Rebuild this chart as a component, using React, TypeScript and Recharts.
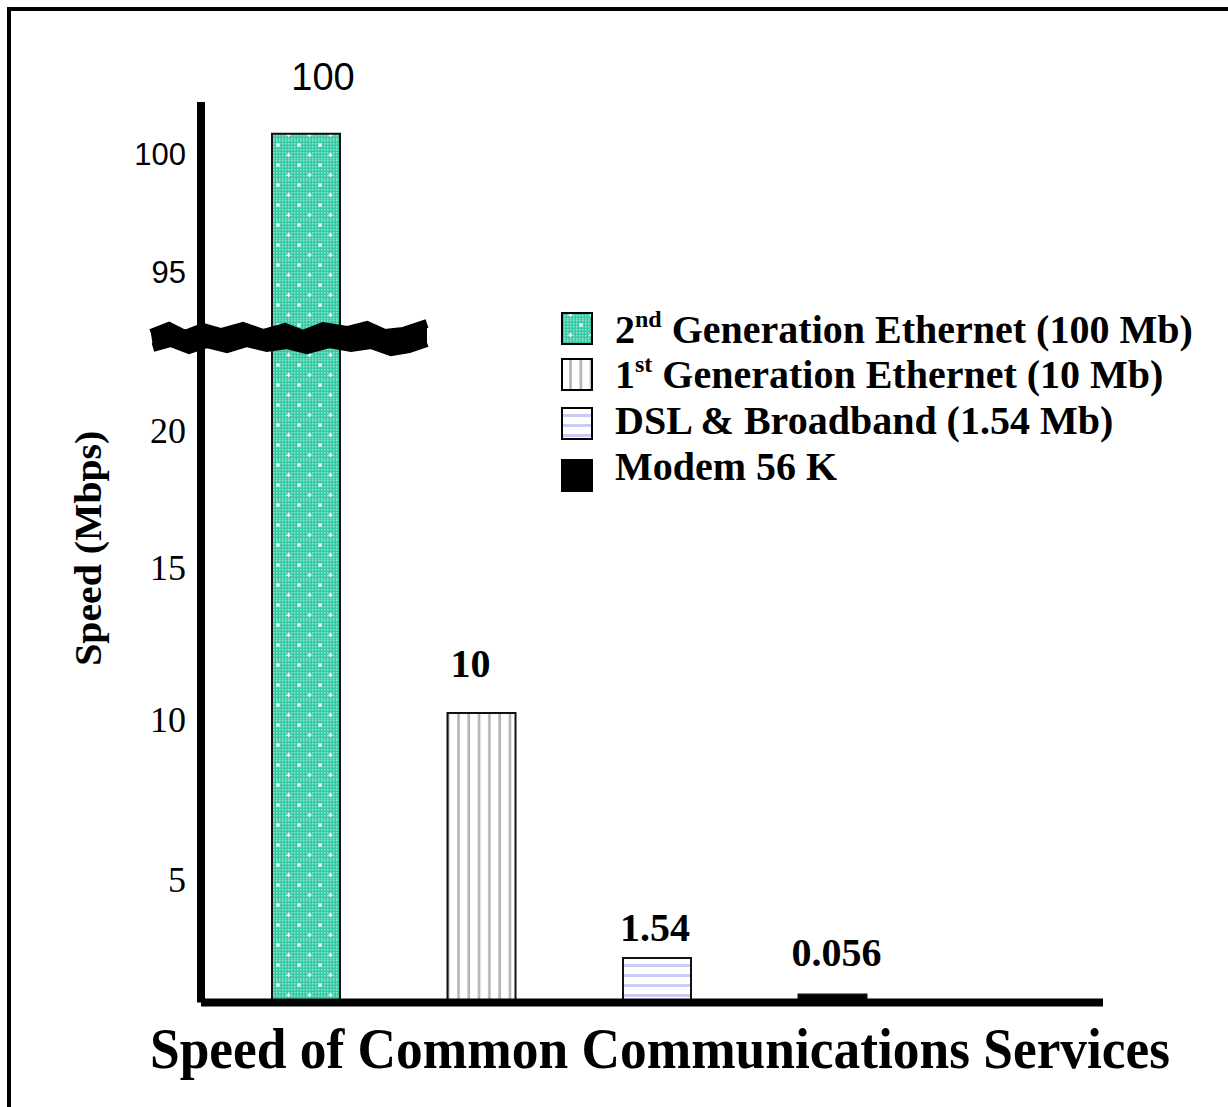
import React from 'react';
import { BarChart, Bar, XAxis, YAxis, Cell, LabelList, Legend, ReferenceLine } from 'recharts';

const categories = [
  '2nd Generation Ethernet (100 Mb)',
  '1st Generation Ethernet (10 Mb)',
  'DSL & Broadband (1.54 Mb)',
  'Modem 56 K',
];
const speeds = [100, 10, 1.54, 0.056];
const speedLabels = ['100', '10', '1.54', '0.056'];
const yTickValues = [5, 10, 15, 20, 95, 100];

// broken axis: everything above the gap is shifted down by SHIFT
const SHIFT = 70;
const GAP = 23;
const toDisplay = (v: number) => (v > 50 ? v - SHIFT : v);
const fromDisplay = (d: number) => (d > GAP ? d + SHIFT : d);

const fills = ['url(#pTeal)', 'url(#pVert)', 'url(#pHoriz)', '#000'];
// small hand nudges so the text sits where the original put it
const tickNudge: Record<number, number> = { 5: 22, 10: 7, 15: 0, 20: 8, 95: -6, 100: 21 };
const labelNudge = [
  [17, -57],
  [-11, -49],
  [-2, -30],
  [4, -42],
];

const data = categories.map((name, i) => ({ name, speed: speeds[i], shown: toDisplay(speeds[i]) }));

const serif = '"Liberation Serif", "Times New Roman", serif';
const sans = '"Liberation Sans", Arial, sans-serif';

const YTick = ({ x, y, payload }: any) => {
  const v = fromDisplay(payload.value);
  const upper = v > 50;
  return (
    <text
      x={x}
      y={y + (tickNudge[v] ?? 0)}
      textAnchor="end"
      dominantBaseline="central"
      fontFamily={upper ? sans : serif}
      fontSize={upper ? 31 : 36}
      fill="#000"
    >
      {v}
    </text>
  );
};

const ValueLabel = ({ x, y, width, index }: any) => {
  const [dx, dy] = labelNudge[index];
  const first = index === 0;
  return (
    <text
      x={x + width / 2 + dx}
      y={y + dy}
      textAnchor="middle"
      dominantBaseline="central"
      fontFamily={first ? sans : serif}
      fontWeight={first ? 400 : 700}
      fontSize={first ? 38 : 40}
      fill="#000"
    >
      {speedLabels[index]}
    </text>
  );
};

const YTitle = ({ viewBox }: any) => {
  const cx = viewBox.x + 7;
  const cy = viewBox.y + viewBox.height / 2 - 4;
  return (
    <text
      x={cx}
      y={cy}
      transform={`rotate(-90 ${cx} ${cy})`}
      textAnchor="middle"
      dominantBaseline="central"
      fontFamily={serif}
      fontWeight={700}
      fontSize={38}
      textLength={235}
      lengthAdjust="spacingAndGlyphs"
    >
      Speed (Mbps)
    </text>
  );
};

const Title = ({ viewBox }: any) => (
  <text
    x={viewBox.x + viewBox.width / 2 + 8}
    y={viewBox.y + 65}
    textAnchor="middle"
    fontFamily={serif}
    fontWeight={700}
    fontSize={56}
    textLength={1020}
    lengthAdjust="spacingAndGlyphs"
  >
    Speed of Common Communications Services
  </text>
);

const BreakMark = (props: any) => {
  const x0 = props.x1 - 50;
  const y0 = (props.y1 ?? 339) + 2;
  const top = [
    [0, -5], [18, -12], [34, -4], [52, -11], [70, -6], [92, -12], [112, -5], [134, -11],
    [152, -4], [172, -12], [196, -8], [216, -13], [234, -5], [252, -7], [276, -15],
  ];
  const bottom = [
    [2, 9], [20, 4], [38, 11], [56, 5], [76, 10], [96, 4], [116, 9], [136, 6],
    [156, 11], [178, 5], [200, 9], [220, 6], [240, 13], [258, 10], [276, 4],
  ];
  const pts = (arr: number[][]) => arr.map(([dx, dy]) => `${x0 + dx},${y0 + dy}`).join(' ');
  const band = [...top, ...[...bottom].reverse()];
  return (
    <g>
      <polygon points={pts(band)} fill="#000" />
      <polyline points={pts(top)} fill="none" stroke="#000" strokeWidth={9} strokeLinejoin="miter" />
      <polyline points={pts(bottom)} fill="none" stroke="#000" strokeWidth={9} strokeLinejoin="miter" />
    </g>
  );
};

const LegendBox = () => {
  const rowsTop = [13, 59, 108, 160];
  const baselines = [43, 88, 134, 180];
  return (
    <svg width={660} height={200} style={{ overflow: 'visible' }}>
      {categories.map((c, i) => {
        const m = c.match(/^(\d)(st|nd|rd|th)(.*)$/);
        return (
          <g key={c}>
            <rect x={7} y={rowsTop[i]} width={30} height={31} fill={fills[i]} stroke="#000" strokeWidth={2} />
            <text x={60} y={baselines[i]} fontFamily={serif} fontWeight={700} fontSize={40} fill="#000">
              {m ? (
                <>
                  <tspan>{m[1]}</tspan>
                  <tspan fontSize={24} dy={-16}>{m[2]}</tspan>
                  <tspan dy={16}>{m[3]}</tspan>
                </>
              ) : (
                c
              )}
            </text>
          </g>
        );
      })}
    </svg>
  );
};

export default function App() {
  return (
    <div style={{ position: 'absolute', left: 0, top: 0, width: 1228, height: 1107, background: '#fff', overflow: 'hidden' }}>
      <div style={{ position: 'absolute', left: 7, top: 7, width: 1300, height: 1200, border: '4px solid #000' }} />
      <div style={{ position: 'absolute', left: 0, top: 0 }}>
        <BarChart width={1228} height={1107} data={data} margin={{ top: 102, right: 125, bottom: 74.5, left: 81 }}>
          <defs>
            <pattern id="pTealDither" width={3} height={3} patternUnits="userSpaceOnUse">
              <rect width={3} height={3} fill="#36c9a5" />
              <rect width={1.5} height={1.5} fill="#93e6d0" />
            </pattern>
            <pattern id="pTeal" width={21} height={20} patternUnits="userSpaceOnUse">
              <rect width={21} height={20} fill="url(#pTealDither)" />
              <rect x={3} y={4.4} width={4} height={1.3} fill="#fff" />
              <rect x={4.35} y={3} width={1.3} height={4} fill="#fff" />
              <rect x={13.5} y={14.4} width={4} height={1.3} fill="#fff" />
              <rect x={14.85} y={13} width={1.3} height={4} fill="#fff" />
            </pattern>
            <pattern id="pVert" width={10.3} height={10} patternUnits="userSpaceOnUse">
              <rect width={10.3} height={10} fill="#fff" />
              <rect x={4} width={2.6} height={10} fill="#b4b4b4" />
            </pattern>
            <pattern id="pHoriz" width={10} height={10} patternUnits="userSpaceOnUse">
              <rect width={10} height={10} fill="#fff" />
              <rect y={4} width={10} height={3} fill="#cacaf6" />
            </pattern>
          </defs>
          <Bar dataKey="shown" barSize={68} minPointSize={8} isAnimationActive={false}>
            {data.map((d, i) => (
              <Cell key={d.name} fill={fills[i]} stroke="#111" strokeWidth={2} />
            ))}
            <LabelList dataKey="speed" content={<ValueLabel />} />
          </Bar>
          <XAxis
            dataKey="name"
            tick={false}
            tickLine={false}
            height={30}
            padding={{ left: 17, right: 183 }}
            axisLine={{ stroke: '#000', strokeWidth: 8 }}
            label={<Title />}
          />
          <YAxis
            type="number"
            width={120}
            domain={[0, 31.1]}
            ticks={yTickValues.map(toDisplay)}
            tick={<YTick />}
            tickLine={false}
            tickSize={0}
            tickMargin={15}
            axisLine={{ stroke: '#000', strokeWidth: 8 }}
            label={<YTitle />}
          />
          <ReferenceLine y={GAP} shape={<BreakMark />} ifOverflow="visible" />
          <Legend
            layout="vertical"
            align="center"
            verticalAlign="middle"
            content={<LegendBox />}
            wrapperStyle={{ left: 555, top: 300, width: 660, height: 200 }}
          />
        </BarChart>
      </div>
    </div>
  );
}
